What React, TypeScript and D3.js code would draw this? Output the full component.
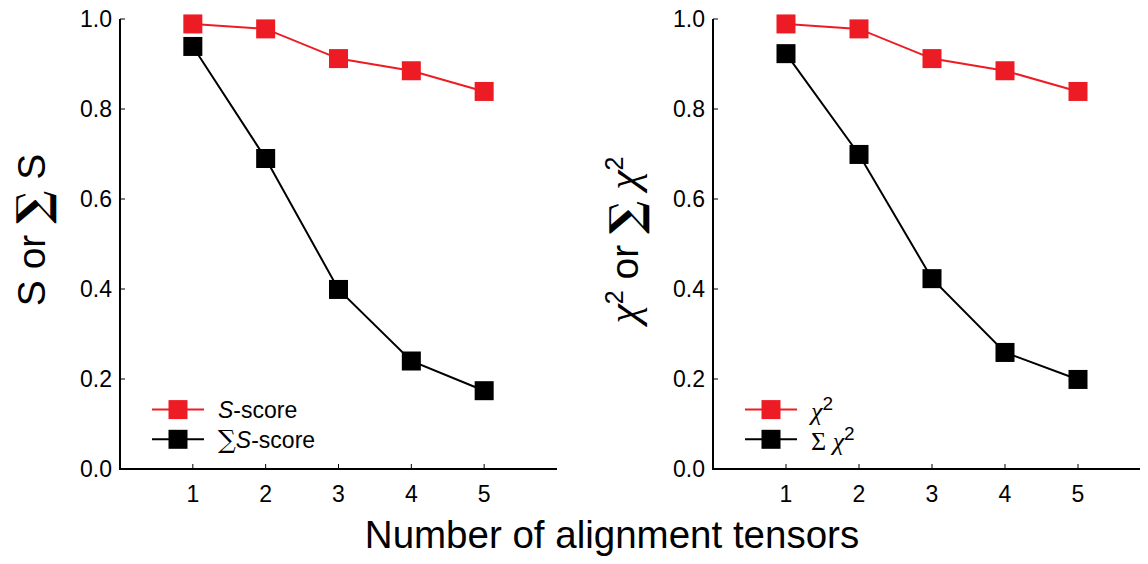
import React from "react";
import * as d3 from "d3";

const tensors = [1, 2, 3, 4, 5];
const sScore = [0.989, 0.978, 0.912, 0.885, 0.839];
const sumSScore = [0.939, 0.69, 0.399, 0.24, 0.174];
const chi2 = [0.989, 0.978, 0.912, 0.885, 0.839];
const sumChi2 = [0.923, 0.699, 0.423, 0.259, 0.199];
const yTicks = [0, 0.2, 0.4, 0.6, 0.8, 1.0];

const RED = "#ed1c24";
const FONT = "'Liberation Sans', Arial, sans-serif";

type PanelProps = {
  left: number;
  right: number;
  red: number[];
  black: number[];
  legend: "s" | "chi";
};

function Panel({ left, right, red, black, legend }: PanelProps) {
  const top = 19;
  const bottom = 469;
  const x = d3.scaleLinear().domain([0, 6]).range([left, right]);
  const y = d3.scaleLinear().domain([0, 1]).range([bottom, top]);
  const line = d3
    .line<number>()
    .x((_, i) => x(tensors[i]))
    .y((d) => y(d));
  const m = 19;

  const series = [
    { vals: red, color: RED },
    { vals: black, color: "#000" },
  ];

  const legX = x(0) + 32;
  const legY = [y(0.132), y(0.066)];

  return (
    <g>
      {series.map((s, k) => (
        <g key={k}>
          <path d={line(s.vals) ?? ""} fill="none" stroke={s.color} strokeWidth={2} />
          {s.vals.map((v, i) => (
            <rect
              key={i}
              x={x(tensors[i]) - m / 2}
              y={y(v) - m / 2}
              width={m}
              height={m}
              fill={s.color}
            />
          ))}
        </g>
      ))}
      {/* axes */}
      <path
        d={`M${x(0)},${y(1)}V${y(0)}H${x(6)}`}
        fill="none"
        stroke="#000"
        strokeWidth={2}
      />
      {yTicks.map((t) => (
        <g key={t}>
          <line x1={x(0)} x2={x(0) + 5} y1={y(t)} y2={y(t)} stroke="#000" strokeWidth={1} />
          <text
            x={x(0) - 8}
            y={y(t)}
            dy="0.36em"
            textAnchor="end"
            fontSize={23}
            fontFamily={FONT}
          >
            {d3.format(".1f")(t)}
          </text>
        </g>
      ))}
      {tensors.map((t) => (
        <g key={t}>
          <line x1={x(t)} x2={x(t)} y1={y(0)} y2={y(0) - 5} stroke="#000" strokeWidth={1} />
          <text x={x(t)} y={y(0) + 33} textAnchor="middle" fontSize={23} fontFamily={FONT}>
            {t}
          </text>
        </g>
      ))}
      {/* legend */}
      {series.map((s, k) => (
        <g key={k}>
          <line x1={legX} x2={legX + 52} y1={legY[k]} y2={legY[k]} stroke={s.color} strokeWidth={2} />
          <rect x={legX + 26 - m / 2} y={legY[k] - m / 2} width={m} height={m} fill={s.color} />
        </g>
      ))}
      {legend === "s" ? (
        <>
          <text x={legX + 66} y={legY[0]} dy="0.36em" fontSize={23} fontFamily={FONT}>
            <tspan fontStyle="italic">S</tspan>-score
          </text>
          <text x={legX + 66} y={legY[1]} dy="0.36em" fontSize={23} fontFamily={FONT}>
            <tspan fontFamily="'DejaVu Serif', serif" fontSize={25}>∑</tspan>
            <tspan fontStyle="italic">S</tspan>-score
          </text>
        </>
      ) : (
        <>
          <text x={legX + 66} y={legY[0]} dy="0.45em" fontSize={23} fontFamily={FONT}>
            <tspan fontStyle="italic" fontFamily="'Liberation Serif', serif" fontSize={26}>χ</tspan>
            <tspan dy={-10} fontSize={19}>2</tspan>
          </text>
          <text x={legX + 66} y={legY[1]} dy="0.45em" fontSize={23} fontFamily={FONT}>
            <tspan fontFamily="'Liberation Serif', serif" fontSize={26}>Σ </tspan>
            <tspan fontStyle="italic" fontFamily="'Liberation Serif', serif" fontSize={26}>χ</tspan>
            <tspan dy={-10} fontSize={19}>2</tspan>
          </text>
        </>
      )}
    </g>
  );
}

export default function App() {
  return (
    <svg width={1148} height={564} style={{ display: "block", margin: "-8px" }}>
      <rect width={1148} height={564} fill="#fff" />
      <Panel left={120} right={557} red={sScore} black={sumSScore} legend="s" />
      <Panel left={713} right={1151} red={chi2} black={sumChi2} legend="chi" />
      <text
        transform="translate(45,230) rotate(-90)"
        textAnchor="middle"
        fontSize={39}
        fontFamily={FONT}
      >
        S or{" "}
        <tspan dy={3} fontFamily="'DejaVu Serif', serif" fontSize={44} fontWeight="bold">∑</tspan>
        <tspan dy={-3}> S</tspan>
      </text>
      <text
        transform="translate(638,240) rotate(-90)"
        textAnchor="middle"
        fontSize={39}
        fontFamily={FONT}
      >
        <tspan fontStyle="italic" fontFamily="'Liberation Serif', serif" fontSize={44}>χ</tspan>
        <tspan dy={-15} fontSize={25}>2</tspan>
        <tspan dy={15}> or </tspan>
        <tspan dy={3} fontFamily="'DejaVu Serif', serif" fontSize={44} fontWeight="bold">∑</tspan>
        <tspan dy={-3} fontStyle="italic" fontFamily="'Liberation Serif', serif" fontSize={44}> χ</tspan>
        <tspan dy={-15} fontSize={25}>2</tspan>
      </text>
      <text x={612} y={548} textAnchor="middle" fontSize={38.5} fontFamily={FONT}>
        Number of alignment tensors
      </text>
    </svg>
  );
}
